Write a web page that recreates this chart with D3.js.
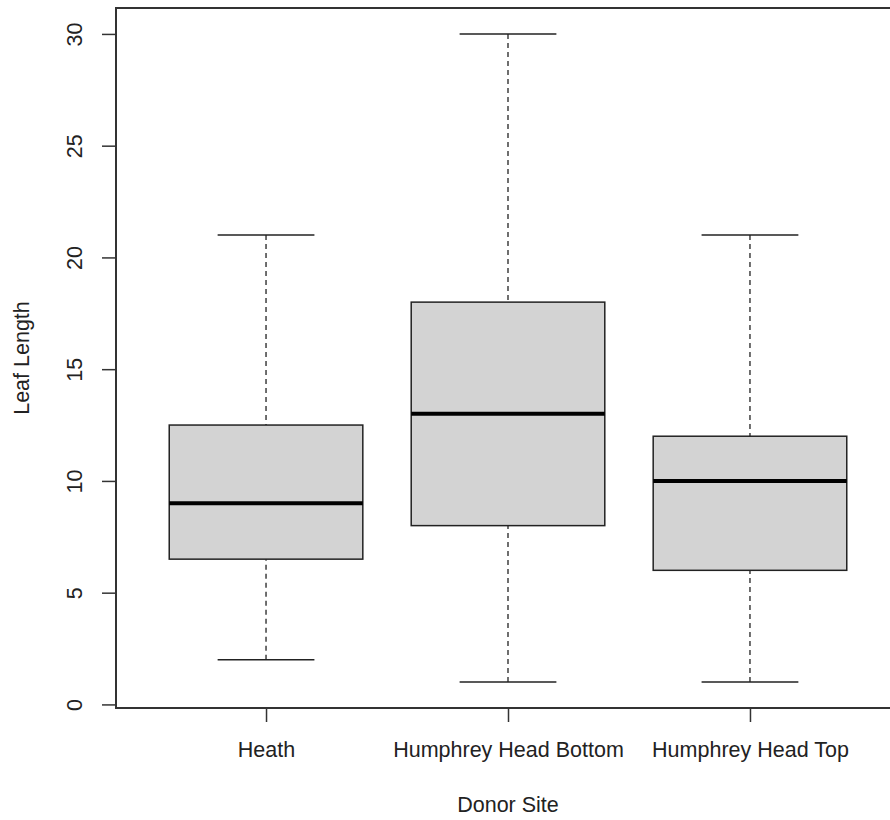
<!DOCTYPE html>
<html>
<head>
	<meta charset="utf-8">
	<script src="https://d3js.org/d3.v7.min.js"></script>
	<style>
		body { margin: 0; background: #fff; }
		text { font-family: "Liberation Sans", Arial, sans-serif; fill: #222; }
	</style>
</head>
<body>
	<script type="text/javascript">
		// data
		var sites = ["Heath", "Humphrey Head Bottom", "Humphrey Head Top"]
		var lower = [2, 1, 1]
		var q1 = [6.5, 8, 6]
		var median = [9, 13, 10]
		var q3 = [12.5, 18, 12]
		var upper = [21, 30, 21]
		var yTicks = [0, 5, 10, 15, 20, 25, 30]

		var width = 890, height = 820
		var plotL = 116, plotR = 900, plotT = 8, plotB = 708

		var svg = d3.select("body").append("svg")
			.attr("width", width)
			.attr("height", height)

		var boxes = sites.map((s, i) => ({site: s, pos: i + 1, lo: lower[i], q1: q1[i], med: median[i], q3: q3[i], hi: upper[i]}))

		// R style: range extended 4% on each side
		var x = d3.scaleLinear().domain([0.38, 3.62]).range([plotL, plotR])
		var ymin = d3.min(lower), ymax = d3.max(upper)
		var pad = (ymax - ymin) * 0.04
		var y = d3.scaleLinear().domain([ymin - pad, ymax + pad]).range([plotB, plotT])

		var bw = (x(2) - x(1)) * 0.8

		var g = svg.append("g")

		// whiskers (dashed)
		g.selectAll(".wlo").data(boxes).enter().append("line")
			.attr("x1", d => x(d.pos)).attr("x2", d => x(d.pos))
			.attr("y1", d => y(d.lo)).attr("y2", d => y(d.q1))
			.attr("stroke", "#222").attr("stroke-width", 1.3).attr("stroke-dasharray", "5,4")
		g.selectAll(".whi").data(boxes).enter().append("line")
			.attr("x1", d => x(d.pos)).attr("x2", d => x(d.pos))
			.attr("y1", d => y(d.hi)).attr("y2", d => y(d.q3))
			.attr("stroke", "#222").attr("stroke-width", 1.3).attr("stroke-dasharray", "5,4")

		// caps
		g.selectAll(".caplo").data(boxes).enter().append("line")
			.attr("x1", d => x(d.pos) - bw / 4).attr("x2", d => x(d.pos) + bw / 4)
			.attr("y1", d => y(d.lo)).attr("y2", d => y(d.lo))
			.attr("stroke", "#222").attr("stroke-width", 1.5)
		g.selectAll(".caphi").data(boxes).enter().append("line")
			.attr("x1", d => x(d.pos) - bw / 4).attr("x2", d => x(d.pos) + bw / 4)
			.attr("y1", d => y(d.hi)).attr("y2", d => y(d.hi))
			.attr("stroke", "#222").attr("stroke-width", 1.5)

		// boxes
		g.selectAll("rect").data(boxes).enter().append("rect")
			.attr("x", d => x(d.pos) - bw / 2)
			.attr("width", bw)
			.attr("y", d => y(d.q3))
			.attr("height", d => y(d.q1) - y(d.q3))
			.attr("fill", "#d3d3d3")
			.attr("stroke", "#222").attr("stroke-width", 1.5)

		// medians
		g.selectAll(".med").data(boxes).enter().append("line")
			.attr("x1", d => x(d.pos) - bw / 2).attr("x2", d => x(d.pos) + bw / 2)
			.attr("y1", d => y(d.med)).attr("y2", d => y(d.med))
			.attr("stroke", "#000").attr("stroke-width", 4)

		// axes
		var yAxis = d3.axisLeft(y).tickValues(yTicks).tickSize(14).tickPadding(0)
		var ya = svg.append("g").attr("transform", "translate(" + plotL + ",0)").call(yAxis)
		ya.select(".domain").remove()
		ya.selectAll(".tick line").attr("stroke", "#333").attr("stroke-width", 1.5)
		ya.selectAll(".tick text")
			.attr("x", 0).attr("dy", null)
			.attr("transform", "translate(-41,0) rotate(-90)")
			.attr("text-anchor", "middle").attr("dominant-baseline", "central")
			.style("font-size", "21.5px").style("font-family", "'Liberation Sans', Arial, sans-serif").attr("fill", "#222")

		var xAxis = d3.axisBottom(x).tickValues(boxes.map(d => d.pos)).tickFormat((d, i) => sites[i]).tickSize(14).tickPadding(20)
		var xa = svg.append("g").attr("transform", "translate(0," + plotB + ")").call(xAxis)
		xa.select(".domain").remove()
		xa.selectAll(".tick line").attr("stroke", "#333").attr("stroke-width", 1.5)
		xa.selectAll(".tick text")
			.style("font-size", "21.5px").style("font-family", "'Liberation Sans', Arial, sans-serif").attr("fill", "#222")

		// frame
		svg.append("rect")
			.attr("x", plotL).attr("y", plotT)
			.attr("width", plotR - plotL).attr("height", plotB - plotT)
			.attr("fill", "none").attr("stroke", "#333").attr("stroke-width", 2)

		// axis titles
		svg.append("text")
			.attr("x", (plotL + plotR) / 2).attr("y", 805)
			.attr("text-anchor", "middle").attr("dominant-baseline", "central")
			.style("font-size", "21.5px")
			.text("Donor Site")
		svg.append("text")
			.attr("transform", "translate(22," + (plotT + plotB) / 2 + ") rotate(-90)")
			.attr("text-anchor", "middle").attr("dominant-baseline", "central")
			.style("font-size", "21.5px")
			.text("Leaf Length")
	</script>
</body>
</html>
